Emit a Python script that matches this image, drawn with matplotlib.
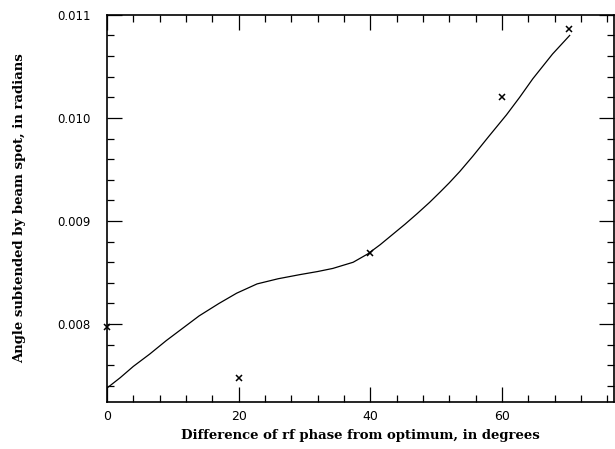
import matplotlib
matplotlib.use("Agg")
import matplotlib.pyplot as plt
from matplotlib.ticker import MultipleLocator, FormatStrFormatter

# measured points (x markers)
phase_pts = [0, 20, 40, 60, 70.2]
angle_pts = [0.00797, 0.007478, 0.008686, 0.010203, 0.010865]

# fitted curve
phase_fit = [0, 2, 4, 6.5, 9, 11.5, 14, 17, 19.7, 22.8, 26, 29.3, 32, 34.3, 37.4,
             39.6, 41.5, 43.4, 45.3, 47.1, 49, 50.6, 52, 53.6, 55.6, 58, 60.7, 62.7,
             64.7, 66.2, 67.7, 70.3]
angle_fit = [0.00738, 0.00748, 0.00759, 0.00771, 0.00784, 0.00796, 0.00808, 0.00820,
             0.00830, 0.00839, 0.00844, 0.00848, 0.00851, 0.00854, 0.00860,
             0.00868, 0.00877, 0.00887, 0.00897, 0.00907, 0.00918, 0.00928, 0.00937,
             0.00948, 0.00963, 0.00982, 0.01003, 0.01020, 0.01038, 0.01050, 0.01062,
             0.01080]

x_ticks = [0, 20, 40, 60]

fig = plt.figure(figsize=(6.15, 4.49), dpi=100)
ax = fig.add_axes([0.174, 0.105, 0.824, 0.862])

ax.plot(phase_fit, angle_fit, color="black", lw=0.9)
ax.plot(phase_pts, angle_pts, "x", color="black", ms=5, mew=1.1, clip_on=False)

ax.set_xlim(0, 77)
ax.set_ylim(0.007246, 0.011)
ax.set_xticks(x_ticks)
ax.xaxis.set_minor_locator(MultipleLocator(4))
ax.yaxis.set_major_locator(MultipleLocator(0.001))
ax.yaxis.set_minor_locator(MultipleLocator(0.0002))
ax.yaxis.set_major_formatter(FormatStrFormatter("%.3f"))

ax.tick_params(which="both", direction="in", top=True, right=True, width=0.9)
ax.tick_params(which="major", length=11, labelsize=9)
ax.tick_params(which="minor", length=5)
ax.tick_params(axis="x", pad=6)
ax.tick_params(axis="y", pad=12, labelsize=8.5)
for s in ax.spines.values():
    s.set_linewidth(1.2)

ax.set_xlabel("Difference of rf phase from optimum, in degrees",
              family="DejaVu Serif", fontweight="bold", fontsize=9.5)
ax.set_ylabel("Angle subtended by beam spot, in radians",
              family="DejaVu Serif", fontweight="bold", fontsize=9.5, labelpad=22)

fig.savefig("out.png", dpi=100)
